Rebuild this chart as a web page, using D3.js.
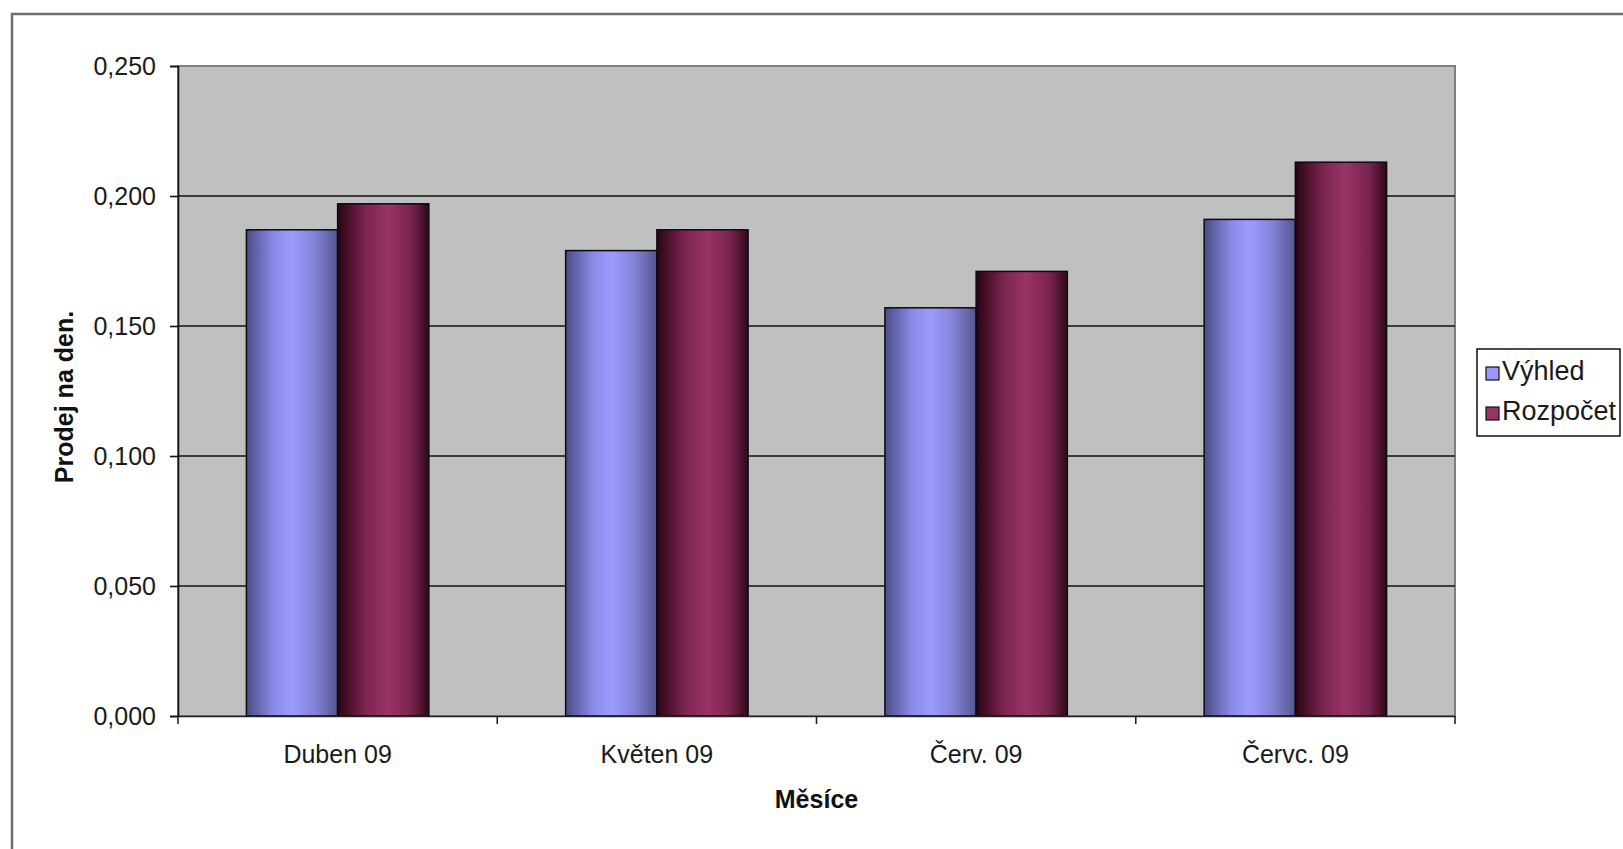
<!DOCTYPE html>
<html>
<head>
<meta charset="utf-8">
<script src="https://cdn.jsdelivr.net/npm/d3@7"></script>
<style>
  html, body { margin: 0; padding: 0; background: #fff; }
  svg { display: block; font-family: "Liberation Sans", Arial, sans-serif; }
</style>
</head>
<body>
<svg id="chart" width="1623" height="849"></svg>
<script>
// Monthly sales per day: outlook vs. budget
const months = ["Duben 09", "Květen 09", "Červ. 09", "Červc. 09"];
const seriesNames = ["Výhled", "Rozpočet"];
const vyhled = [0.187, 0.179, 0.157, 0.191];
const rozpocet = [0.197, 0.187, 0.171, 0.213];
const yTicks = [0, 0.05, 0.10, 0.15, 0.20, 0.25];
const yTitle = "Prodej na den.";
const xTitle = "Měsíce";

const seriesValues = [vyhled, rozpocet];
const rows = months.map((m, i) => ({ month: m, values: seriesNames.map((s, j) => ({ key: s, value: seriesValues[j][i] })) }));

const svg = d3.select("#chart");
const plot = { left: 178, right: 1455, top: 66, bottom: 716 };

// gradients giving the bars their rounded, shaded look
const defs = svg.append("defs");
function hGrad(id, stops) {
  const g = defs.append("linearGradient").attr("id", id).attr("x1", "0%").attr("x2", "100%").attr("y1", "0%").attr("y2", "0%");
  stops.forEach(([o, c]) => g.append("stop").attr("offset", o).attr("stop-color", c));
}
hGrad("gBlue", [["0%", "#4c4c86"], ["30%", "#8a8ae8"], ["50%", "#9c9cff"], ["75%", "#8383d8"], ["100%", "#55558e"]]);
hGrad("gRed", [["0%", "#2a0412"], ["30%", "#7a2450"], ["55%", "#9a3466"], ["80%", "#7a2450"], ["100%", "#300818"]]);
const fills = { "Výhled": "url(#gBlue)", "Rozpočet": "url(#gRed)" };
const solid = { "Výhled": "#9999ff", "Rozpočet": "#993366" };

// outer chart frame
svg.append("rect").attr("x", 12).attr("y", 14).attr("width", 1700).attr("height", 900)
  .attr("fill", "#fff").attr("stroke", "#6e6e6e").attr("stroke-width", 2.5);

const x0 = d3.scaleBand().domain(months).range([plot.left, plot.right]).paddingInner(0).paddingOuter(0);
const x1 = d3.scaleBand().domain(seriesNames).range([0, x0.bandwidth()]).paddingInner(0).paddingOuter(0.75);
const y = d3.scaleLinear().domain([0, 0.25]).range([plot.bottom, plot.top]);

// plot area
svg.append("rect").attr("x", plot.left).attr("y", plot.top)
  .attr("width", plot.right - plot.left).attr("height", plot.bottom - plot.top)
  .attr("fill", "#c0c0c0").attr("stroke", "#808080").attr("stroke-width", 2);

// gridlines
svg.append("g").selectAll("line").data(yTicks.filter(t => t > 0 && t < 0.25)).join("line")
  .attr("x1", plot.left).attr("x2", plot.right)
  .attr("y1", d => y(d)).attr("y2", d => y(d))
  .attr("stroke", "#111").attr("stroke-width", 1.6);

// bars
const groups = svg.append("g").selectAll("g").data(rows).join("g")
  .attr("transform", d => `translate(${x0(d.month)},0)`);
groups.selectAll("rect").data(d => d.values).join("rect")
  .attr("x", d => x1(d.key)).attr("width", x1.bandwidth())
  .attr("y", d => y(d.value)).attr("height", d => y(0) - y(d.value))
  .attr("fill", d => fills[d.key]).attr("stroke", "#0a0a14").attr("stroke-width", 1.5);

const fmt = v => d3.format(".3f")(v).replace(".", ",");

// y axis
const yAxis = svg.append("g").attr("transform", `translate(${plot.left},0)`)
  .call(d3.axisLeft(y).tickValues(yTicks).tickFormat(fmt).tickSize(8).tickPadding(14));
yAxis.select(".domain").attr("stroke", "#111").attr("stroke-width", 1.6);
yAxis.selectAll(".tick line").attr("stroke", "#111").attr("stroke-width", 1.6);
yAxis.selectAll(".tick text").attr("font-size", 25).attr("fill", "#1a1a1a")
  .attr("font-family", "'Liberation Sans', Arial, sans-serif");

// x axis with ticks at category boundaries
const xAxis = svg.append("g").attr("transform", `translate(0,${plot.bottom})`)
  .call(d3.axisBottom(x0).tickSize(0).tickPadding(47));
xAxis.select(".domain").attr("stroke", "#222").attr("stroke-width", 1.6);
xAxis.selectAll(".tick text").attr("font-size", 25).attr("fill", "#1a1a1a")
  .attr("font-family", "'Liberation Sans', Arial, sans-serif").attr("dy", "0");
const bounds = months.map(m => x0(m)).concat([plot.right]);
svg.append("g").selectAll("line").data(bounds).join("line")
  .attr("x1", d => d).attr("x2", d => d).attr("y1", plot.bottom).attr("y2", plot.bottom + 8)
  .attr("stroke", "#222").attr("stroke-width", 1.6);

// axis titles
svg.append("text").attr("transform", `translate(73,397) rotate(-90)`)
  .attr("text-anchor", "middle").attr("font-weight", "bold").attr("font-size", 25)
  .attr("fill", "#111").text(yTitle);
svg.append("text").attr("x", (plot.left + plot.right) / 2).attr("y", 808)
  .attr("text-anchor", "middle").attr("font-weight", "bold").attr("font-size", 25)
  .attr("fill", "#111").text(xTitle);

// legend
const lg = svg.append("g");
lg.append("rect").attr("x", 1477).attr("y", 349).attr("width", 143).attr("height", 87)
  .attr("fill", "#fff").attr("stroke", "#111").attr("stroke-width", 1.5);
const items = lg.selectAll("g.item").data(seriesNames).join("g").attr("class", "item")
  .attr("transform", (d, i) => `translate(1486,${367 + i * 40})`);
items.append("rect").attr("width", 13).attr("height", 13)
  .attr("fill", d => solid[d]).attr("stroke", "#111").attr("stroke-width", 1.2);
items.append("text").attr("x", 16).attr("y", 13).attr("font-size", 27).attr("fill", "#1a1a1a").text(d => d);
</script>
</body>
</html>
